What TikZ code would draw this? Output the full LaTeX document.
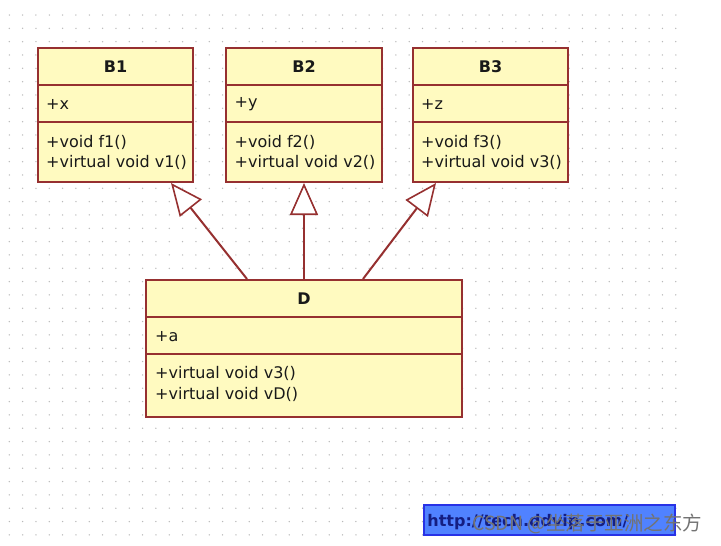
\documentclass[tikz,border=0pt]{standalone}
\usepackage{fontspec}
\setmainfont{DejaVu Sans}
\newfontfamily\cjk{Noto Sans CJK SC}
\usetikzlibrary{arrows.meta,calc}
\definecolor{umlfill}{RGB}{255,250,192}
\definecolor{umlline}{RGB}{150,48,48}
\definecolor{dotc}{RGB}{185,185,185}
\definecolor{wmfill}{RGB}{80,130,255}
\definecolor{wmline}{RGB}{40,50,230}
\definecolor{wmtext}{RGB}{20,30,130}
\definecolor{csdngray}{RGB}{115,115,115}
\definecolor{memtext}{RGB}{25,25,25}
\begin{document}
\begin{tikzpicture}[x=1pt,y=-1pt,
  cls/.style={draw=umlline, fill=umlfill, line width=2pt, inner sep=0pt, minimum width=155},
  divider/.style={draw=umlline, line width=2pt},
  ttl/.style={font=\bfseries\fontsize{16}{16}\selectfont, inner sep=0pt, text=memtext},
  mem/.style={font=\fontsize{16}{16}\selectfont, anchor=west, inner sep=0pt, text=memtext},
  inh/.style={draw=umlline, line width=2pt, -{Triangle[length=32pt,width=28pt,fill=white,line width=1.6pt]}}
]
\useasboundingbox[fill=white] (0,0) rectangle (721,546);
% dot grid
\foreach \i in {0,...,50}{
  \foreach \j in {0,...,39}{
    \fill[dotc] ({9.3+13.33*\i},{15+13.33*\j}) circle (0.75);
  }
}
% B1
\node[cls, minimum height=134] (B1) at (115.5,115) {};
\draw[divider] (B1.west |- 0,85) -- (B1.east |- 0,85);
\draw[divider] (B1.west |- 0,122) -- (B1.east |- 0,122);
\node[ttl] (B1t) at (115.5,67) {B1};
\node[mem] (B1a) at (46,104) {+x};
\node[mem] (B1m1) at (46,142) {+void f1()};
\node[mem] (B1m2) at (46,162) {+virtual void v1()};
% B2
\node[cls, minimum width=156, minimum height=134] (B2) at (304,115) {};
\draw[divider] (B2.west |- 0,85) -- (B2.east |- 0,85);
\draw[divider] (B2.west |- 0,122) -- (B2.east |- 0,122);
\node[ttl] (B2t) at (304,67) {B2};
\node[mem] (B2a) at (234.5,104) {+y};
\node[mem] (B2m1) at (234.5,142) {+void f2()};
\node[mem] (B2m2) at (234.5,162) {+virtual void v2()};
% B3
\node[cls, minimum height=134] (B3) at (490.5,115) {};
\draw[divider] (B3.west |- 0,85) -- (B3.east |- 0,85);
\draw[divider] (B3.west |- 0,122) -- (B3.east |- 0,122);
\node[ttl] (B3t) at (490.5,67) {B3};
\node[mem] (B3a) at (421,104) {+z};
\node[mem] (B3m1) at (421,142) {+void f3()};
\node[mem] (B3m2) at (421,162) {+virtual void v3()};
% D
\node[cls, minimum width=316, minimum height=137] (D) at (304,348.5) {};
\draw[divider] (D.west |- 0,317) -- (D.east |- 0,317);
\draw[divider] (D.west |- 0,354) -- (D.east |- 0,354);
\node[ttl] (Dt) at (304,299) {D};
\node[mem] (Da) at (155,337) {+a};
\node[mem] (Dm1) at (155,373) {+virtual void v3()};
\node[mem] (Dm2) at (155,394) {+virtual void vD()};
% inheritance
\draw[inh] ($(D.north west)+(102,0)$) -- ($(B1.south west)+(134,0)$);
\draw[inh] (D.north) -- (D.north |- B2.south);
\draw[inh] ($(D.north west)+(218,0)$) -- ($(B3.south west)+(24,0)$);
% watermark
\node[draw=wmline, fill=wmfill, line width=1.5pt, minimum width=251, minimum height=30, inner sep=0pt] (wm) at (549.5,520) {};
\node[anchor=west, inner sep=0pt, font=\bfseries\fontsize{16}{16}\selectfont, text=wmtext] (url) at ($(wm.west)+(4,2)$) {http://tech.ddvip.com/};
\node[anchor=west, inner sep=0pt, font=\cjk\fontsize{19.5}{19.5}\selectfont, text=csdngray] (csdn) at (472,524) {CSDN @坐落于亚洲之东方};
\end{tikzpicture}
\end{document}
